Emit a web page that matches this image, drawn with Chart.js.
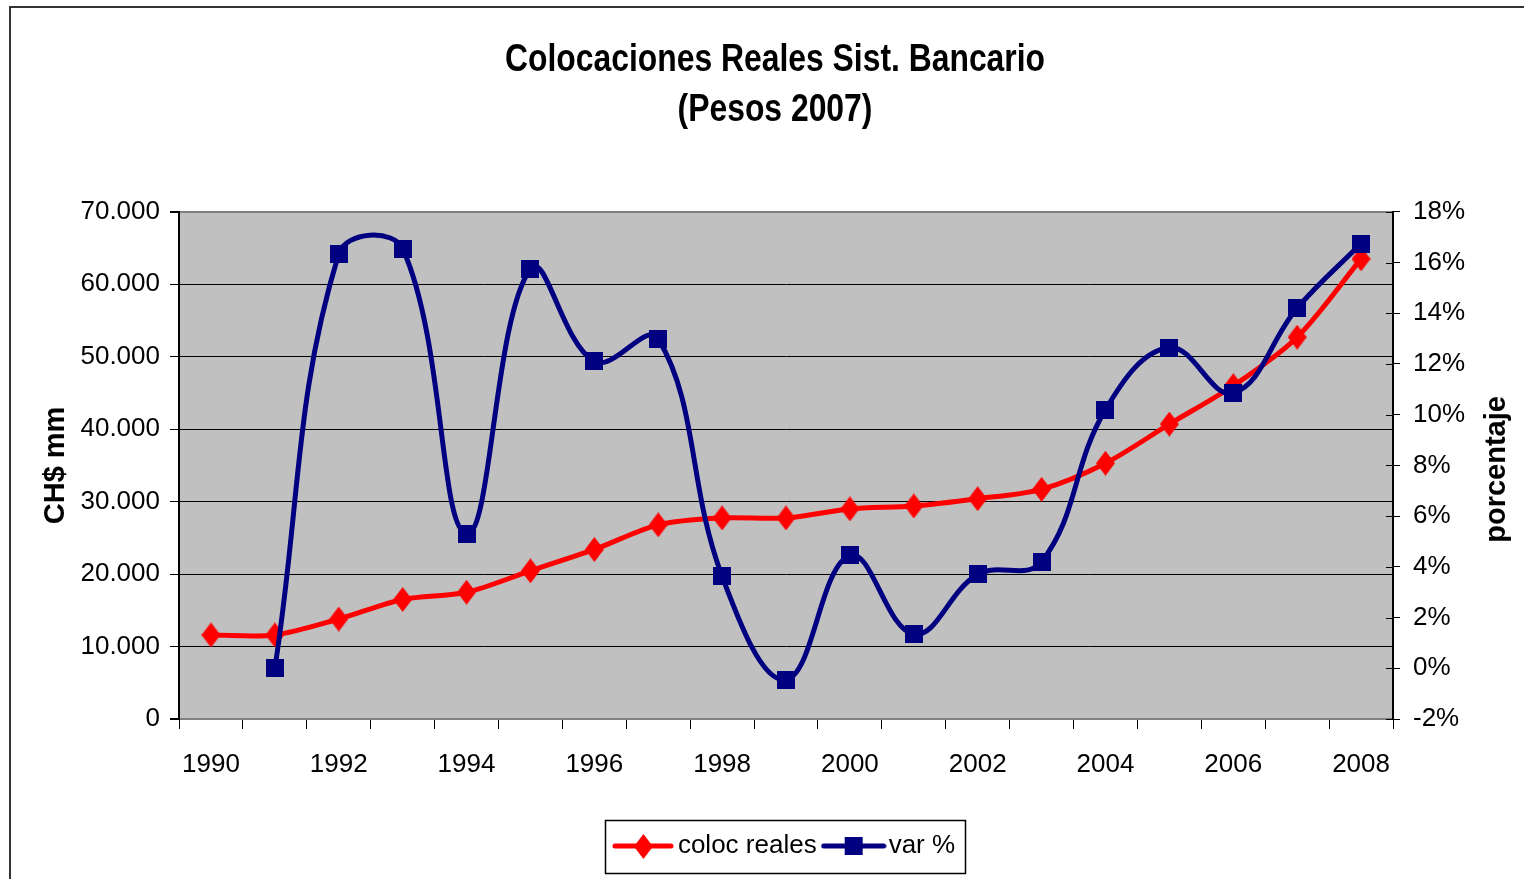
<!DOCTYPE html>
<html>
<head>
<meta charset="utf-8">
<script src="https://cdn.jsdelivr.net/npm/chart.js@4.4.1/dist/chart.umd.min.js"></script>
<style>
html,body{margin:0;padding:0;background:#fff;overflow:hidden}
#wrap{width:1524px;height:879px;position:relative}
canvas{display:block}
</style>
</head>
<body>
<div id="wrap"><canvas id="c" width="1524" height="879"></canvas></div>
<script>
// ---- data ----
const years = ['1990','1991','1992','1993','1994','1995','1996','1997','1998','1999','2000','2001','2002','2003','2004','2005','2006','2007','2008'];
const shownYears = ['1990','1992','1994','1996','1998','2000','2002','2004','2006','2008'];
const colocReales = [11600, 11600, 13800, 16500, 17500, 20450, 23400, 26800, 27750, 27750, 29000, 29400, 30400, 31700, 35300, 40700, 46000, 52700, 63500];
const varPct = [null, 0.0, 16.35, 16.55, 5.3, 15.75, 12.1, 13.0, 3.63, -0.45, 4.45, 1.35, 3.7, 4.2, 10.2, 12.65, 10.85, 14.2, 16.75];
const seriesNames = ['coloc reales', 'var %'];
const chartTitle = ['Colocaciones Reales Sist. Bancario', '(Pesos 2007)'];
const leftAxisTitle = 'CH$ mm';
const rightAxisTitle = 'porcentaje';

// ---- styles ----
const RED = '#FF0000', NAVY = '#000080';
const FONT = "'Liberation Sans', Arial, sans-serif";
const TITLE_CONDENSE = 0.817;

function diamondImg(w, h, color) {
  const c = document.createElement('canvas'); c.width = w; c.height = h;
  const x = c.getContext('2d'); x.fillStyle = color;
  x.beginPath(); x.moveTo(w/2, 0); x.lineTo(w, h/2); x.lineTo(w/2, h); x.lineTo(0, h/2); x.closePath(); x.fill();
  return c;
}
function squareImg(s, color) {
  const c = document.createElement('canvas'); c.width = s; c.height = s;
  const x = c.getContext('2d'); x.fillStyle = color; x.fillRect(0, 0, s, s);
  return c;
}
function legendIcon(marker, color, w, h) {
  const c = document.createElement('canvas'); c.width = w; c.height = h;
  const x = c.getContext('2d');
  x.strokeStyle = color; x.lineWidth = 5; x.lineCap = 'round';
  x.beginPath(); x.moveTo(3, h/2); x.lineTo(w-3, h/2); x.stroke();
  x.drawImage(marker, Math.round((w - marker.width)/2), Math.round((h - marker.height)/2));
  return c;
}
const redMarker = diamondImg(19, 25, RED);
const navyMarker = squareImg(18, NAVY);
const legendIcons = [legendIcon(redMarker, RED, 62, 26), legendIcon(navyMarker, NAVY, 66, 26)];

function thousands(v) { return String(v).replace(/\B(?=(\d{3})+(?!\d))/g, '.'); }

Chart.defaults.font.family = FONT;
Chart.defaults.color = '#000';

const backgroundPlugin = {
  id: 'bg',
  beforeDraw(chart) {
    const {ctx, chartArea: a} = chart;
    ctx.save();
    ctx.fillStyle = '#fff'; ctx.fillRect(0, 0, chart.width, chart.height);
    ctx.strokeStyle = '#333'; ctx.lineWidth = 2;
    ctx.beginPath(); ctx.moveTo(10, chart.height + 2); ctx.lineTo(10, 7); ctx.lineTo(chart.width + 2, 7); ctx.stroke();
    ctx.fillStyle = '#C0C0C0'; ctx.fillRect(a.left, a.top, a.right - a.left, a.bottom - a.top);
    ctx.restore();
  }
};
// condensed title: draw the library title with a horizontal squeeze around its centre
const condensedTitlePlugin = {
  id: 'condensedTitle',
  beforeUpdate(chart) {
    const tb = chart.titleBlock;
    if (!tb || tb._condensed) return;
    const orig = tb.draw;
    tb.draw = function (...args) {
      const ctx = this.ctx;
      const cx = (this.left + this.right) / 2;
      ctx.save();
      ctx.translate(cx, 0); ctx.scale(TITLE_CONDENSE, 1); ctx.translate(-cx, 0);
      orig.apply(this, args);
      ctx.restore();
    };
    tb._condensed = true;
  }
};
const innerTicksPlugin = {
  id: 'innerTicks',
  beforeDatasetsDraw(chart) {
    const {ctx, chartArea: a} = chart; const s = chart.scales.y1;
    ctx.save(); ctx.strokeStyle = '#000'; ctx.lineWidth = 1;
    s.ticks.forEach(t => {
      const y = Math.round(s.getPixelForValue(t.value)) + 0.5;
      ctx.beginPath(); ctx.moveTo(a.right - 7, y); ctx.lineTo(a.right, y); ctx.stroke();
    });
    ctx.restore();
  }
};
const rightTitlePlugin = {
  id: 'rightTitle',
  afterDraw(chart) {
    const {ctx, chartArea: a} = chart; const s = chart.scales.y1;
    ctx.save();
    ctx.translate(s.right - 27, (a.top + a.bottom) / 2 + 4);
    ctx.rotate(-Math.PI / 2);
    ctx.font = 'bold 29px ' + FONT; ctx.fillStyle = '#000';
    ctx.textAlign = 'center'; ctx.textBaseline = 'middle';
    ctx.fillText(rightAxisTitle, 0, 0);
    ctx.restore();
  }
};
const LEGEND_SHIFT = 26;
const legendBoxPlugin = {
  id: 'legendBox',
  afterLayout(chart) { chart.legend.left += LEGEND_SHIFT; },
  afterDraw(chart) {
    const lg = chart.legend; const {ctx} = chart;
    const pad = lg.options.labels.padding; const lw = lg.lineWidths[0];
    const x0 = (lg.left + pad + lg.right - lw) / 2;
    const cy = lg.top + pad + lg.options.labels.font.size / 2;
    ctx.save(); ctx.strokeStyle = '#000'; ctx.lineWidth = 1.5;
    ctx.strokeRect(Math.round(x0 - 16) + 0.5, Math.round(cy - 26.5) + 0.5, Math.round(lw + 11), 53);
    ctx.restore();
  }
};

new Chart(document.getElementById('c'), {
  type: 'line',
  data: {
    labels: years,
    datasets: [
      {
        label: seriesNames[0], data: colocReales, yAxisID: 'y', order: 1,
        borderColor: RED, backgroundColor: RED, borderWidth: 5, tension: 0.3,
        borderCapStyle: 'round', borderJoinStyle: 'round',
        pointStyle: redMarker, pointRadius: 9, pointHoverRadius: 9
      },
      {
        label: seriesNames[1], data: varPct, yAxisID: 'y1', order: 0,
        borderColor: NAVY, backgroundColor: NAVY, borderWidth: 5, tension: 0.4,
        borderCapStyle: 'round', borderJoinStyle: 'round', spanGaps: true,
        pointStyle: navyMarker, pointRadius: 9, pointHoverRadius: 9
      }
    ]
  },
  options: {
    responsive: false, animation: false, devicePixelRatio: 1,
    layout: { padding: { left: 26, right: 0, top: 10, bottom: 10 } },
    plugins: {
      title: {
        display: true, text: chartTitle, color: '#000',
        font: { family: FONT, size: 39, weight: 'bold', lineHeight: 1.28 },
        padding: { top: 25, bottom: 77 }
      },
      legend: {
        position: 'bottom',
        labels: {
          usePointStyle: true, pointStyleWidth: 44, padding: 15, color: '#000',
          font: { family: FONT, size: 26 },
          generateLabels(chart) {
            const items = Chart.defaults.plugins.legend.labels.generateLabels(chart);
            items.sort((a, b) => a.datasetIndex - b.datasetIndex);
            items.forEach(it => { it.pointStyle = legendIcons[it.datasetIndex]; });
            return items;
          }
        }
      },
      tooltip: { enabled: false }
    },
    scales: {
      x: {
        type: 'category', offset: true,
        grid: { offset: true, drawOnChartArea: false, drawTicks: true, tickLength: 10, color: '#000', lineWidth: 1 },
        border: { display: true, color: '#808080', width: 2 },
        ticks: {
          autoSkip: false, maxRotation: 0, minRotation: 0, padding: 20, color: '#000',
          font: { family: FONT, size: 26 },
          callback(v) { const l = this.getLabelForValue(v); return shownYears.includes(l) ? l : ''; }
        },
        afterFit(s) { s.height = 99; }
      },
      y: {
        position: 'left', min: 0, max: 70000,
        ticks: { stepSize: 10000, padding: 10, color: '#000', font: { family: FONT, size: 26 }, callback: v => thousands(v) },
        grid: {
          color: c => (c.tick && (c.tick.value === 0 || c.tick.value === 70000)) ? '#808080' : '#000',
          lineWidth: c => (c.tick && (c.tick.value === 0 || c.tick.value === 70000)) ? 2 : 1,
          tickColor: '#000', tickLength: 9
        },
        border: { color: '#000', width: 2 },
        title: { display: true, text: leftAxisTitle, color: '#000', font: { family: FONT, size: 29, weight: 'bold', lineHeight: 1.2 }, padding: { top: 13, bottom: 0 } },
        afterFit(s) { s.width = 153; }
      },
      y1: {
        position: 'right', min: -2, max: 18,
        ticks: { stepSize: 2, padding: 13, color: '#000', font: { family: FONT, size: 26 }, callback: v => v + '%' },
        grid: { drawOnChartArea: false, tickLength: 7, color: '#000', lineWidth: 1 },
        border: { color: '#000', width: 2 },
        afterFit(s) { s.width = 131; }
      }
    }
  },
  plugins: [backgroundPlugin, condensedTitlePlugin, innerTicksPlugin, rightTitlePlugin, legendBoxPlugin]
});
</script>
</body>
</html>
